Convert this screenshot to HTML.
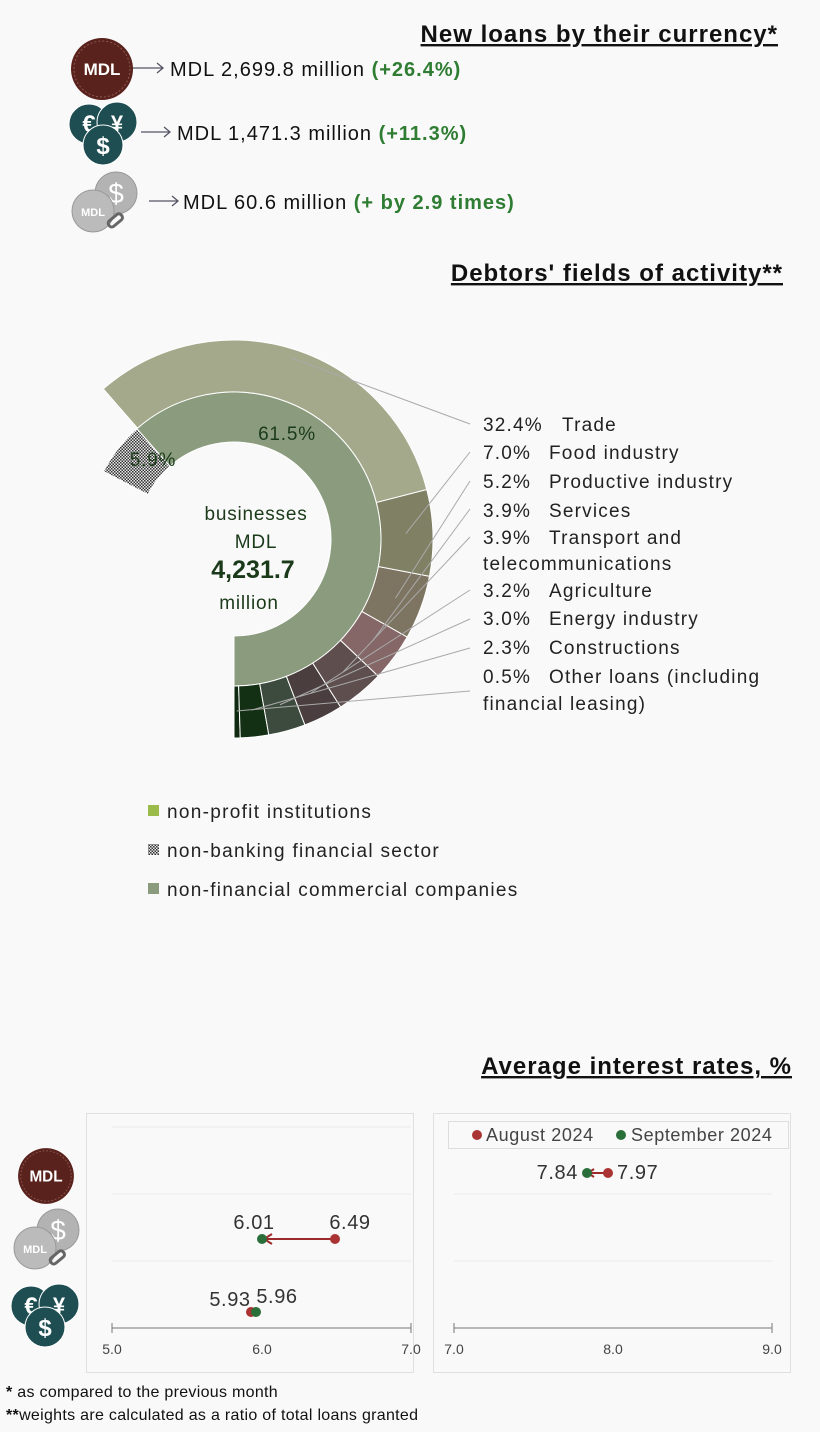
<!DOCTYPE html>
<html><head><meta charset="utf-8"><style>
body{margin:0;background:#f9f9f9;}
svg{display:block;font-family:"Liberation Sans",sans-serif;}
</style></head><body>
<svg id="s" width="820" height="1432" viewBox="0 0 820 1432" xmlns="http://www.w3.org/2000/svg">
<defs>
<pattern id="chk" width="3" height="3" patternUnits="userSpaceOnUse"><rect width="3" height="3" fill="#e8e8e8"/><rect width="1.5" height="1.5" fill="#333"/><rect x="1.5" y="1.5" width="1.5" height="1.5" fill="#333"/></pattern>
<g id="cMDL"><circle r="31" fill="#5a221c"/><circle r="28" fill="none" stroke="#8a5a52" stroke-width="1" stroke-dasharray="2 2"/><text y="6" text-anchor="middle" font-size="17" font-weight="bold" fill="#fff">MDL</text></g>
<g id="cFX"><circle cx="-14" cy="-8" r="20" fill="#1e4e52" stroke="#fff"/><text x="-14" y="0" text-anchor="middle" font-size="24" font-weight="bold" fill="#fff">€</text><circle cx="14" cy="-10" r="20" fill="#1e4e52" stroke="#fff"/><text x="14" y="-1" text-anchor="middle" font-size="22" font-weight="bold" fill="#fff">¥</text><circle cx="0" cy="13" r="20" fill="#1e4e52" stroke="#fff"/><text x="0" y="22" text-anchor="middle" font-size="24" font-weight="bold" fill="#fff">$</text></g>
<g id="cLNK"><circle cx="13" cy="-10" r="21" fill="#b3b3b3" stroke="#999"/><text x="13" y="0" text-anchor="middle" font-size="28" fill="#fff">$</text><circle cx="-10" cy="8" r="21" fill="#bbb" stroke="#999"/><text x="-10" y="13" text-anchor="middle" font-size="11" font-weight="bold" fill="#fff">MDL</text><rect x="4" y="14" width="16" height="7" rx="3" fill="none" stroke="#666" stroke-width="3" transform="rotate(-40 12 17)"/></g>
</defs>
<g font-weight="bold" fill="#111" letter-spacing="1">
<text x="778" y="42" text-anchor="end" font-size="24" text-decoration="underline">New loans by their currency*</text>
<text x="783" y="281" text-anchor="end" font-size="24" text-decoration="underline">Debtors' fields of activity**</text>
<text x="792" y="1074" text-anchor="end" font-size="24" text-decoration="underline">Average interest rates, %</text>
</g>
<use href="#cMDL" x="102" y="69"/>
<use href="#cFX" x="103" y="132"/>
<use href="#cLNK" x="103" y="203"/>
<g stroke="#556" stroke-width="1.3" fill="none">
<path d="M133 68H163M157 63L163 68L157 73"/><path d="M141 132H170M164 127L170 132L164 137"/><path d="M149 201H178M172 196L178 201L172 206"/>
</g>
<g font-size="20" fill="#111" letter-spacing="1">
<text x="170" y="76">MDL 2,699.8 million <tspan fill="#2e7d32" font-weight="bold">(+26.4%)</tspan></text>
<text x="177" y="140">MDL 1,471.3 million <tspan fill="#2e7d32" font-weight="bold">(+11.3%)</tspan></text>
<text x="183" y="209">MDL 60.6 million <tspan fill="#2e7d32" font-weight="bold">(+ by 2.9 times)</tspan></text>
</g>
<g id="donut"></g>
<g font-size="19" fill="#1a3a1a" text-anchor="middle" letter-spacing="0.8">
<text x="256" y="520">businesses</text><text x="256" y="548">MDL</text>
<text x="253" y="578" font-size="25" font-weight="bold" letter-spacing="0">4,231.7</text><text x="249" y="609">million</text>
<text x="287" y="440">61.5%</text><text x="153" y="466">5.9%</text>
</g>
<g font-size="19" fill="#222" letter-spacing="1.2">
<text x="483" y="431">32.4%<tspan x="562">Trade</tspan></text><text x="483" y="459">7.0%<tspan x="549">Food industry</tspan></text>
<text x="483" y="488">5.2%<tspan x="549">Productive industry</tspan></text><text x="483" y="517">3.9%<tspan x="549">Services</tspan></text>
<text x="483" y="544">3.9%<tspan x="549">Transport and</tspan></text><text x="483" y="570">telecommunications</text>
<text x="483" y="597">3.2%<tspan x="549">Agriculture</tspan></text><text x="483" y="625">3.0%<tspan x="549">Energy industry</tspan></text>
<text x="483" y="654">2.3%<tspan x="549">Constructions</tspan></text><text x="483" y="683">0.5%<tspan x="549">Other loans (including</tspan></text>
<text x="483" y="710">financial leasing)</text>
</g>
<g font-size="19" fill="#222" letter-spacing="1.3">
<rect x="148" y="805" width="11" height="11" fill="#9bbb4a"/><text x="167" y="818">non-profit institutions</text>
<rect x="148" y="844" width="11" height="11" fill="url(#chk)"/><text x="167" y="857">non-banking financial sector</text>
<rect x="148" y="883" width="11" height="11" fill="#8a9b7e"/><text x="167" y="896">non-financial commercial companies</text>
</g>
<rect x="86.5" y="1113.5" width="327" height="259" fill="#f9f9f9" stroke="#e0e0e0"/>
<rect x="433.5" y="1113.5" width="357" height="259" fill="#f9f9f9" stroke="#e0e0e0"/>
<g stroke="#ececec"><path d="M112 1127H411M112 1194H411M112 1261H411M454 1127H772M454 1194H772M454 1261H772"/></g>
<g stroke="#777" fill="none"><path d="M112 1328H411M112 1323V1333M411 1323V1333M454 1328H772M454 1323V1333M772 1323V1333"/></g>
<g font-size="14" fill="#444" text-anchor="middle">
<text x="112" y="1354">5.0</text><text x="262" y="1354">6.0</text><text x="411" y="1354">7.0</text>
<text x="454" y="1354">7.0</text><text x="613" y="1354">8.0</text><text x="772" y="1354">9.0</text>
</g>
<use href="#cMDL" x="46" y="1176" transform="translate(46 1176) scale(0.9) translate(-46 -1176)"/>
<use href="#cLNK" x="45" y="1240"/>
<use href="#cFX" x="45" y="1314"/>
<rect x="448.5" y="1121.5" width="340" height="27" fill="#f9f9f9" stroke="#ddd"/>
<g font-size="18" fill="#444" letter-spacing="0.6">
<circle cx="477" cy="1135" r="5" fill="#a33"/><text x="486" y="1141">August 2024</text>
<circle cx="621" cy="1135" r="5" fill="#2a6e3a"/><text x="631" y="1141">September 2024</text>
</g>
<g stroke="#9b2a2a" stroke-width="2" fill="none">
<path d="M335 1239H264M272 1234L264 1239L272 1244"/>
<path d="M607 1173H588M594 1169L588 1173L594 1177"/>
</g>
<circle cx="335" cy="1239" r="5" fill="#a33"/><circle cx="262" cy="1239" r="5" fill="#2a6e3a"/>
<circle cx="251" cy="1312" r="5" fill="#a33"/><circle cx="256" cy="1312" r="5" fill="#2a6e3a"/>
<circle cx="608" cy="1173" r="5" fill="#a33"/><circle cx="587" cy="1173" r="5" fill="#2a6e3a"/>
<g font-size="20" fill="#333" letter-spacing="0.6">
<text x="254" y="1229" text-anchor="middle">6.01</text><text x="350" y="1229" text-anchor="middle">6.49</text>
<text x="230" y="1306" text-anchor="middle">5.93</text><text x="277" y="1303" text-anchor="middle">5.96</text>
<text x="578" y="1179" text-anchor="end">7.84</text><text x="617" y="1179">7.97</text>
</g>
<g font-size="16" fill="#111" letter-spacing="0.3">
<text x="6" y="1397"><tspan font-weight="bold">*</tspan> as compared to the previous month</text>
<text x="6" y="1420"><tspan font-weight="bold">**</tspan>weights are calculated as a ratio of total loans granted</text>
</g>
</svg>
<script>
var cx=234,cy=539,NS="http://www.w3.org/2000/svg",g=document.getElementById("donut");
function pt(r,p){var a=p/100*2*Math.PI;return [cx+r*Math.sin(a),cy+r*Math.cos(a)];}
function arc(r0,r1,p0,p1,fill){var a=pt(r1,p0),b=pt(r1,p1),c=pt(r0,p1),d=pt(r0,p0),l=(p1-p0)>50?1:0;
var e=document.createElementNS(NS,"path");
e.setAttribute("d","M"+a+"A"+r1+","+r1+" 0 "+l+" 0 "+b+"L"+c+"A"+r0+","+r0+" 0 "+l+" 1 "+d+"Z");
e.setAttribute("fill",fill);e.setAttribute("stroke","#fff");e.setAttribute("stroke-width","1");g.appendChild(e);}
arc(97,147,0,61.5,"#8a9b7e");arc(97,147,61.5,67.4,"url(#chk)");
var segs=[[0.5,"#0f2a10"],[2.3,"#143014"],[3.0,"#3d4b3e"],[3.2,"#4a3e3e"],[3.9,"#5e4e4e"],[3.9,"#846766"],[5.2,"#7e7462"],[7.0,"#7f8064"],[32.4,"#a3a98a"]];
var p=0,mids=[];segs.forEach(function(s){arc(147,199,p,p+s[0],s[1]);mids.push(p+s[0]/2);p+=s[0];});
var ys=[691,648,619,590,537,509,481,452,424];
for(var i=0;i<9;i++){var m=pt(i==8?190:172,mids[i]);var l=document.createElementNS(NS,"path");
l.setAttribute("d","M"+m+"L470,"+ys[i]);l.setAttribute("stroke","#aaa");l.setAttribute("fill","none");g.appendChild(l);}
</script>
</body></html>
